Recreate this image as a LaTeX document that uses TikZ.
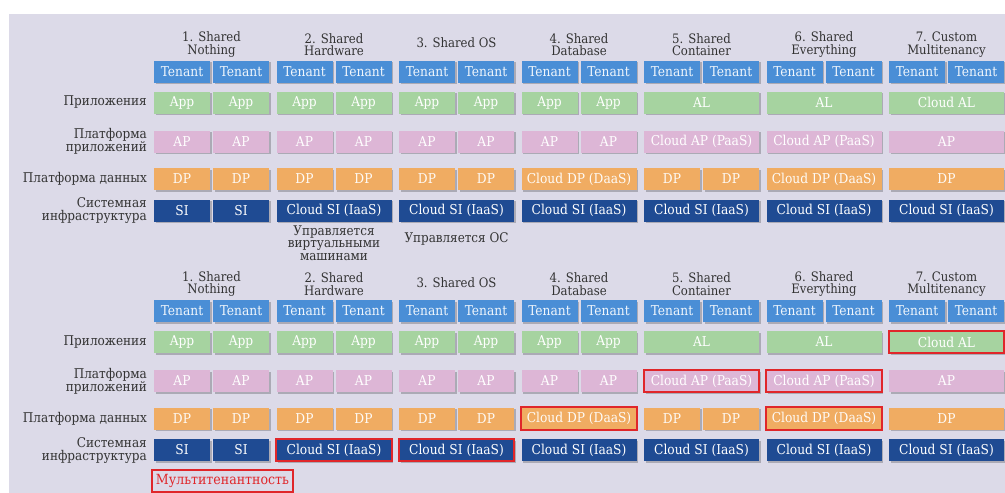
\documentclass[tikz,border=0pt]{standalone}
\usepackage{fontspec}
\setmainfont{DejaVu Serif Condensed}
\usetikzlibrary{shadows}
\definecolor{bgc}{HTML}{DCDAE8}
\definecolor{tenc}{HTML}{4A8ED6}
\definecolor{appc}{HTML}{A6D3A0}
\definecolor{apc}{HTML}{DDB6D6}
\definecolor{dpc}{HTML}{F0AC62}
\definecolor{sic}{HTML}{1F4B93}
\definecolor{redc}{HTML}{E0262A}
\definecolor{lblc}{HTML}{333333}
\tikzset{
  cell/.style={minimum width=56pt, minimum height=22pt, inner sep=0pt, text=white,
    font=\fontsize{13.6}{14}\selectfont,
    drop shadow={shadow xshift=1.5pt, shadow yshift=-1.5pt, fill=black, opacity=0.22}},
  ten/.style={cell, fill=tenc, text=white!92!tenc},
  appb/.style={cell, fill=appc},
  apb/.style={cell, fill=apc},
  dpb/.style={cell, fill=dpc, text=white!95!dpc},
  sib/.style={cell, fill=sic},
  hdr/.style={align=center, text=lblc, inner sep=0pt, font=\fontsize{13}{12.5}\selectfont},
  lbl/.style={align=right, anchor=east, text=lblc, inner sep=0pt, font=\fontsize{13.4}{13}\selectfont},
  note/.style={align=center, text=lblc, inner sep=0pt, font=\fontsize{13.3}{12.5}\selectfont},
  redbox/.style={draw=redc, line width=2.2pt}
}
\newcommand{\pairrow}[6]{%
  \node[#2] (#1a) at (#3+28,#4) {#5};
  \node[#2] (#1b) at (#3+87,#4) {#6};}
\newcommand{\widerow}[5]{%
  \node[#2, minimum width=115pt] (#1) at (#3+57.5,#4) {#5};}
\newcommand{\panel}[2]{%
 \begin{scope}[yshift=-#2pt]
  % row labels
  \node[lbl] (#1lapp) at (147,102.5) {Приложения};
  \node[lbl] (#1lap) at (147,141.5) {Платформа\\приложений};
  \node[lbl] (#1ldp) at (147,179) {Платформа данных};
  \node[lbl] (#1lsi) at (147,211) {Системная\\инфраструктура};
  % headers
  \node[hdr] (#1h1) at (211.5,44.5) {1. Shared\\Nothing};
  \node[hdr] (#1h2) at (334,44.5) {2. Shared\\Hardware};
  \node[hdr] (#1h3) at (456.5,43) {3. Shared OS};
  \node[hdr] (#1h4) at (579,44.5) {4. Shared\\Database};
  \node[hdr] (#1h5) at (701.5,44.5) {5. Shared\\Container};
  \node[hdr] (#1h6) at (824,44.5) {6. Shared\\Everything};
  \node[hdr] (#1h7) at (946.5,44.5) {7. Custom\\Multitenancy};
  % column 1
  \pairrow{#1c1t}{ten}{154}{71.5}{Tenant}{Tenant}
  \pairrow{#1c1app}{appb}{154}{102.5}{App}{App}
  \pairrow{#1c1ap}{apb}{154}{141.5}{AP}{AP}
  \pairrow{#1c1dp}{dpb}{154}{179}{DP}{DP}
  \pairrow{#1c1si}{sib}{154}{210.5}{SI}{SI}
  % column 2
  \pairrow{#1c2t}{ten}{276.5}{71.5}{Tenant}{Tenant}
  \pairrow{#1c2app}{appb}{276.5}{102.5}{App}{App}
  \pairrow{#1c2ap}{apb}{276.5}{141.5}{AP}{AP}
  \pairrow{#1c2dp}{dpb}{276.5}{179}{DP}{DP}
  \widerow{#1c2si}{sib}{276.5}{210.5}{Cloud SI (IaaS)}
  % column 3
  \pairrow{#1c3t}{ten}{399}{71.5}{Tenant}{Tenant}
  \pairrow{#1c3app}{appb}{399}{102.5}{App}{App}
  \pairrow{#1c3ap}{apb}{399}{141.5}{AP}{AP}
  \pairrow{#1c3dp}{dpb}{399}{179}{DP}{DP}
  \widerow{#1c3si}{sib}{399}{210.5}{Cloud SI (IaaS)}
  % column 4
  \pairrow{#1c4t}{ten}{521.5}{71.5}{Tenant}{Tenant}
  \pairrow{#1c4app}{appb}{521.5}{102.5}{App}{App}
  \pairrow{#1c4ap}{apb}{521.5}{141.5}{AP}{AP}
  \widerow{#1c4dp}{dpb}{521.5}{179}{Cloud DP (DaaS)}
  \widerow{#1c4si}{sib}{521.5}{210.5}{Cloud SI (IaaS)}
  % column 5
  \pairrow{#1c5t}{ten}{644}{71.5}{Tenant}{Tenant}
  \widerow{#1c5app}{appb}{644}{102.5}{AL}
  \widerow{#1c5ap}{apb}{644}{141.5}{Cloud AP (PaaS)}
  \pairrow{#1c5dp}{dpb}{644}{179}{DP}{DP}
  \widerow{#1c5si}{sib}{644}{210.5}{Cloud SI (IaaS)}
  % column 6
  \pairrow{#1c6t}{ten}{766.5}{71.5}{Tenant}{Tenant}
  \widerow{#1c6app}{appb}{766.5}{102.5}{AL}
  \widerow{#1c6ap}{apb}{766.5}{141.5}{Cloud AP (PaaS)}
  \widerow{#1c6dp}{dpb}{766.5}{179}{Cloud DP (DaaS)}
  \widerow{#1c6si}{sib}{766.5}{210.5}{Cloud SI (IaaS)}
  % column 7
  \pairrow{#1c7t}{ten}{889}{71.5}{Tenant}{Tenant}
  \widerow{#1c7app}{appb}{889}{102.5}{Cloud AL}
  \widerow{#1c7ap}{apb}{889}{141.5}{AP}
  \widerow{#1c7dp}{dpb}{889}{179}{DP}
  \widerow{#1c7si}{sib}{889}{210.5}{Cloud SI (IaaS)}
 \end{scope}}
\begin{document}
\begin{tikzpicture}[x=1pt,y=-1pt]
  \useasboundingbox (0,0) rectangle (1005,493);
  \fill[bgc] (9,14) rectangle (1005,493);
  \panel{t}{0}
  \panel{b}{239.5}
  % notes under top panel
  \node[note] (nvm) at (334,243) {Управляется\\виртуальными\\машинами};
  \node[note] (nos) at (456.5,239) {Управляется ОС};
  % red highlights in bottom panel
  \draw[redbox] (bc2si.north west) rectangle (bc2si.south east);
  \draw[redbox] (bc3si.north west) rectangle (bc3si.south east);
  \draw[redbox] (bc4dp.north west) rectangle (bc4dp.south east);
  \draw[redbox] (bc5ap.north west) rectangle (bc5ap.south east);
  \draw[redbox] (bc6ap.north west) rectangle (bc6ap.south east);
  \draw[redbox] (bc6dp.north west) rectangle (bc6dp.south east);
  \draw[redbox] (bc7app.north west) rectangle (bc7app.south east);
  \node[draw=redc, line width=1.6pt, text=redc, minimum width=141pt, minimum height=22pt,
        inner sep=0pt, font=\fontsize{14}{14}\selectfont] (multi) at (222.5,481) {Мультитенантность};
\end{tikzpicture}
\end{document}
